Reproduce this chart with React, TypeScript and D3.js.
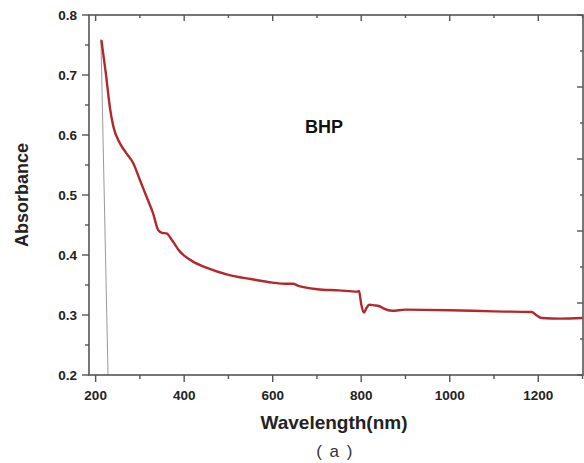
import React from "react";
import * as d3 from "d3";

const wavelengths = [213, 223, 232, 240, 255, 270, 285, 300, 315, 330, 341, 350, 360, 375, 390, 400, 420, 450, 500, 550, 600, 630, 645, 660, 700, 750, 790, 795, 800, 806, 812, 818, 830, 840, 850, 870, 900, 1000, 1100, 1185, 1195, 1208, 1250, 1300];
const absorbance = [0.758, 0.703, 0.647, 0.614, 0.586, 0.569, 0.553, 0.525, 0.497, 0.469, 0.442, 0.437, 0.436, 0.422, 0.406, 0.399, 0.389, 0.379, 0.367, 0.360, 0.354, 0.352, 0.352, 0.348, 0.343, 0.341, 0.339, 0.340, 0.318, 0.304, 0.312, 0.317, 0.316, 0.315, 0.311, 0.307, 0.309, 0.308, 0.306, 0.305, 0.300, 0.295, 0.294, 0.295];
const grayX = [212, 228];
const grayY = [0.76, 0.2];
const xMajor = [200, 400, 600, 800, 1000, 1200];
const xMinor = [300, 500, 700, 900, 1100, 1300];
const yMajor = [0.2, 0.3, 0.4, 0.5, 0.6, 0.7, 0.8];
const yMinor = [0.25, 0.35, 0.45, 0.55, 0.65, 0.75];
const rightTicks = [0, 1, 2, 3, 4, 5, 6, 7, 8, 9, 10];

const W = 584, H = 463;
const L = 89, R = 583, T = 15, B = 375;

export default function App() {
  const x = d3.scaleLinear().domain([185, 1301]).range([L, R]);
  const y = d3.scaleLinear().domain([0.2, 0.8]).range([B, T]);
  const yr = d3.scaleLinear().domain([10, 0]).range([B, T]);
  const data = wavelengths.map((w, i) => [w, absorbance[i]] as [number, number]);
  const line = d3.line<[number, number]>().x(d => x(d[0])).y(d => y(d[1])).curve(d3.curveMonotoneX);
  const gray = grayX.map((w, i) => [w, grayY[i]] as [number, number]);
  const grayLine = d3.line<[number, number]>().x(d => x(d[0])).y(d => y(d[1]));
  const ax = "#555";
  const font = "'Liberation Sans', Arial, sans-serif";
  return (
    <svg width={W} height={H} style={{ position: "absolute", left: 0, top: 0, background: "#fff" }} fontFamily={font}>
      <path d={grayLine(gray) || ""} fill="none" stroke="#999" strokeWidth={1} />
      <path d={line(data) || ""} fill="none" stroke="#b3282d" strokeWidth={2.4} />
      <rect x={L} y={T} width={R - L} height={B - T} fill="none" stroke={ax} strokeWidth={1.6} />
      {xMajor.map(v => (
        <g key={"xM" + v}>
          <line x1={x(v)} x2={x(v)} y1={B} y2={B + 7} stroke={ax} strokeWidth={1.4} />
          <line x1={x(v)} x2={x(v)} y1={T} y2={T + 6} stroke={ax} strokeWidth={1.4} />
          <text x={x(v)} y={400} textAnchor="middle" fontSize={13.5} fontWeight="bold" fill="#222">{v}</text>
        </g>
      ))}
      {xMinor.map(v => (
        <g key={"xm" + v}>
          <line x1={x(v)} x2={x(v)} y1={B} y2={B + 4} stroke={ax} strokeWidth={1.4} />
          <line x1={x(v)} x2={x(v)} y1={T} y2={T + 3} stroke={ax} strokeWidth={1.4} />
        </g>
      ))}
      {yMajor.map(v => (
        <g key={"yM" + v}>
          <line x1={L - 7} x2={L} y1={y(v)} y2={y(v)} stroke={ax} strokeWidth={1.4} />
          <text x={77} y={y(v)} dy="0.35em" textAnchor="end" fontSize={13.5} fontWeight="bold" fill="#222">{v.toFixed(1)}</text>
        </g>
      ))}
      {yMinor.map(v => (
        <line key={"ym" + v} x1={L - 4} x2={L} y1={y(v)} y2={y(v)} stroke={ax} strokeWidth={1.4} />
      ))}
      {rightTicks.map(v => (
        <line key={"r" + v} x1={R - (v % 2 === 0 ? 6 : 3)} x2={R} y1={yr(v)} y2={yr(v)} stroke={ax} strokeWidth={1.4} />
      ))}
      <text x={324} y={133} textAnchor="middle" fontSize={18} fontWeight="bold" fill="#111">BHP</text>
      <text transform="translate(28,195) rotate(-90)" textAnchor="middle" fontSize={18} fontWeight="bold" fill="#222">Absorbance</text>
      <text x={334} y={429} textAnchor="middle" fontSize={19} fontWeight="bold" fill="#222">Wavelength(nm)</text>
      <text x={335} y={457} textAnchor="middle" fontSize={17} fill="#333" letterSpacing={1.5}>( a )</text>
    </svg>
  );
}
